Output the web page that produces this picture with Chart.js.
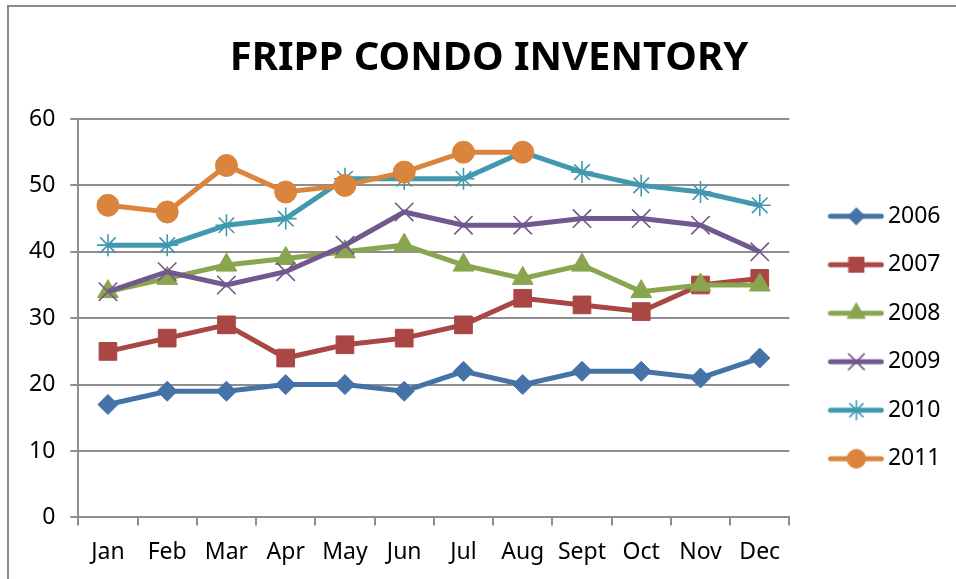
<!DOCTYPE html>
<html>
<head>
<meta charset="utf-8">
<script src="https://cdn.jsdelivr.net/npm/chart.js@4.4.0/dist/chart.umd.min.js"></script>
<style>
	html, body { margin: 0; padding: 0; background: #fff; }
	#wrap { width: 956px; height: 579px; position: relative; }
</style>
</head>
<body>
<div id="wrap"><canvas id="chart"></canvas></div>
<script>
const months = ['Jan', 'Feb', 'Mar', 'Apr', 'May', 'Jun', 'Jul', 'Aug', 'Sept', 'Oct', 'Nov', 'Dec'];
const years = ['2006', '2007', '2008', '2009', '2010', '2011'];
const inv2006 = [17, 19, 19, 20, 20, 19, 22, 20, 22, 22, 21, 24];
const inv2007 = [25, 27, 29, 24, 26, 27, 29, 33, 32, 31, 35, 36];
const inv2008 = [34, 36, 38, 39, 40, 41, 38, 36, 38, 34, 35, 35];
const inv2009 = [34, 37, 35, 37, 41, 46, 44, 44, 45, 45, 44, 40];
const inv2010 = [41, 41, 44, 45, 51, 51, 51, 55, 52, 50, 49, 47];
const inv2011 = [47, 46, 53, 49, 50, 52, 55, 55];
const yTicks = [0, 10, 20, 30, 40, 50, 60];

const FONT = 'Noto Sans';
const GRID = '#8e8e8e';

const series = [
	{ data: inv2006, color: '#4572A7', style: 'rectRot', radius: 10, bw: 1 },
	{ data: inv2007, color: '#AA4643', style: 'rect', radius: 12.5, bw: 1 },
	{ data: inv2008, color: '#89A54E', style: 'triangle', radius: 12, bw: 1 },
	{ data: inv2009, color: '#71588F', style: 'crossRot', radius: 13, bw: 1.6 },
	{ data: inv2010, color: '#4198AF', style: 'star', radius: 11, bw: 1.6 },
	{ data: inv2011, color: '#DB843D', style: 'circle', radius: 11, bw: 1 },
];

// line + marker icon for the legend
const legendIcon = s => {
	const c = document.createElement('canvas');
	c.width = 64;
	c.height = 28;
	const ctx = c.getContext('2d');
	ctx.strokeStyle = s.color;
	ctx.fillStyle = s.color;
	ctx.lineWidth = 5;
	ctx.lineCap = 'round';
	ctx.beginPath();
	ctx.moveTo(10, 14);
	ctx.lineTo(61, 14);
	ctx.stroke();
	ctx.lineWidth = s.bw;
	Chart.helpers.drawPoint(ctx, { pointStyle: s.style, radius: s.radius * 0.85, borderWidth: s.bw, rotation: 0 }, 36, 14);
	return c;
};

const frame = {
	id: 'frame',
	beforeDraw(chart) {
		const ctx = chart.ctx;
		ctx.save();
		ctx.strokeStyle = '#8a8a8a';
		ctx.lineWidth = 2;
		ctx.beginPath();
		ctx.moveTo(8, 579);
		ctx.lineTo(8, 6);
		ctx.lineTo(956, 6);
		ctx.stroke();
		ctx.restore();
	}
};

// nudge title and legend to where the original sits
const shiftBoxes = {
	id: 'shiftBoxes',
	afterLayout(chart) {
		const lg = chart.legend;
		const dx = chart.chartArea.right + 39 - (lg.left + 25.5);
		const dy = 48;
		lg.left += dx;
		lg.right += dx;
		lg.top += dy;
		lg.bottom += dy;
		const t = chart.titleBlock;
		t.left += 13.5;
		t.right += 13.5;
	}
};

const main = () => {
	const ctx = document.querySelector('#chart').getContext('2d');
	const datasets = series.map((s, i) => ({
		label: years[i],
		data: s.data,
		borderColor: s.color,
		backgroundColor: s.color,
		borderWidth: 5,
		pointStyle: s.style,
		pointRadius: s.radius,
		pointBorderWidth: s.bw,
		pointBackgroundColor: s.color,
		pointBorderColor: s.color,
		tension: 0,
		order: series.length - i,
	}));
	const icons = series.map(legendIcon);

	new Chart(ctx, {
		type: 'line',
		data: { labels: months, datasets },
		options: {
			responsive: true,
			maintainAspectRatio: false,
			animation: false,
			devicePixelRatio: 1,
			layout: { padding: { left: 14, right: 19, top: 0, bottom: 0 } },
			plugins: {
				title: {
					display: true,
					text: 'FRIPP CONDO INVENTORY',
					color: '#000',
					font: { family: FONT, size: 40, weight: 'bold' },
					padding: { top: 35, bottom: 36 },
				},
				legend: {
					position: 'right',
					labels: {
						usePointStyle: true,
						pointStyleWidth: 48,
						padding: 25.5,
						color: '#000',
						font: { family: FONT, size: 23 },
						generateLabels: chart => Chart.defaults.plugins.legend.labels.generateLabels(chart)
							.map(item => ({ ...item, pointStyle: icons[item.datasetIndex] })),
						sort: (a, b) => a.datasetIndex - b.datasetIndex,
					},
				},
				tooltip: { enabled: false },
			},
			scales: {
				x: {
					offset: true,
					grid: { display: true, drawOnChartArea: false, drawTicks: true, tickLength: 8, color: GRID, lineWidth: 2, offset: true },
					border: { color: GRID, width: 2 },
					ticks: { color: '#000', font: { family: FONT, size: 23 }, padding: 13, maxRotation: 0, autoSkip: false },
				},
				y: {
					min: yTicks[0],
					max: yTicks[yTicks.length - 1],
					grid: { color: GRID, lineWidth: 2, tickLength: 8 },
					border: { color: GRID, width: 2 },
					ticks: { stepSize: 10, color: '#000', font: { family: FONT, size: 23 }, padding: 15 },
				},
			},
		},
		plugins: [frame, shiftBoxes],
	});
};
document.addEventListener('DOMContentLoaded', main);
</script>
</body>
</html>
